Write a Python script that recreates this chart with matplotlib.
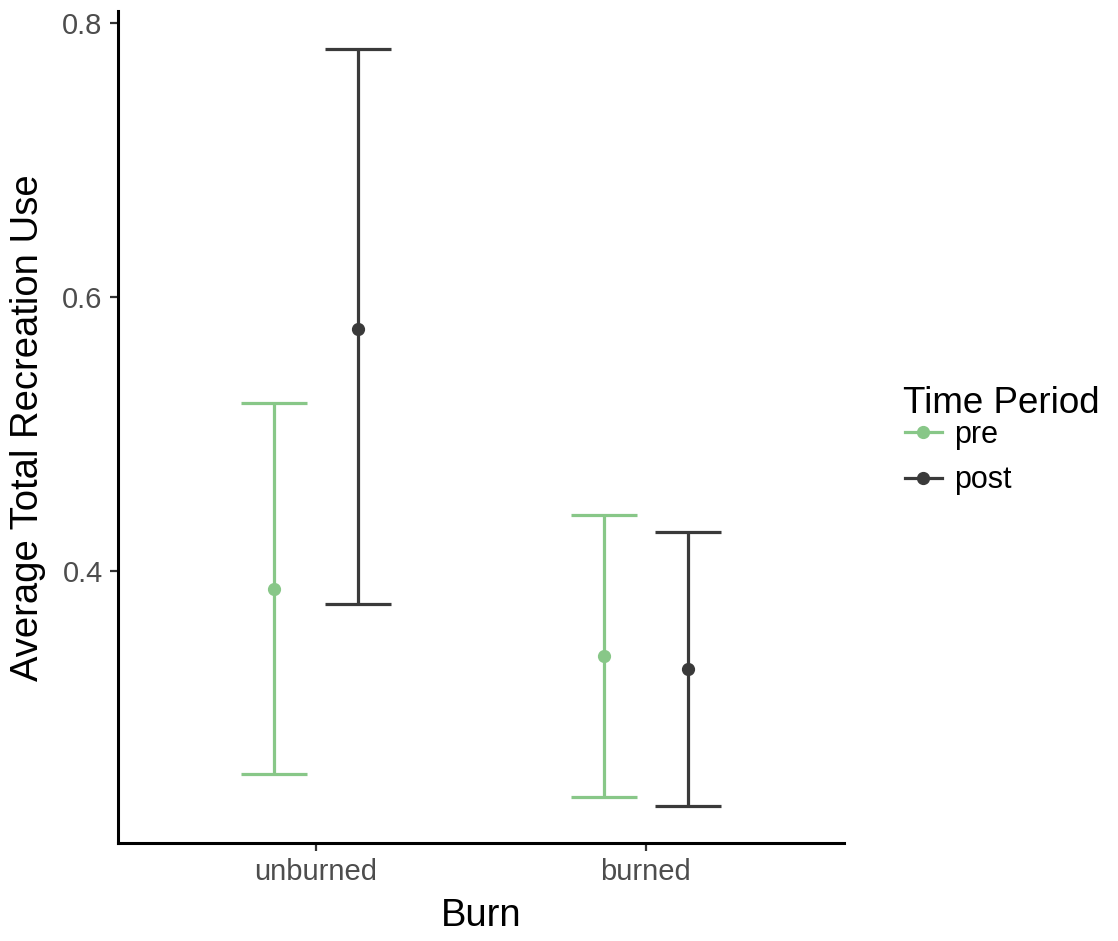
import numpy as np
import matplotlib
matplotlib.use('Agg')
from matplotlib import pyplot as plt
from matplotlib.lines import Line2D

plt.rcParams['font.family'] = ['Liberation Sans', 'DejaVu Sans']

# data
burn = ['unburned', 'burned']
periods = ['pre', 'post']
means = {'pre': [0.387, 0.338], 'post': [0.577, 0.3285]}
lower = {'pre': [0.252, 0.235], 'post': [0.376, 0.229]}
upper = {'pre': [0.523, 0.441], 'post': [0.781, 0.4285]}

colors = {'pre': '#88c788', 'post': '#3a3a3a'}


def main():
    fig = plt.figure(figsize=(11.18, 9.41), dpi=100)
    ax = fig.add_axes([0.1055, 0.104, 0.649, 0.884])

    x = np.arange(1, len(burn) + 1)
    dodge = {'pre': -0.127, 'post': 0.127}
    cap = 0.1

    for p in periods:
        xs = x + dodge[p]
        ax.vlines(xs, lower[p], upper[p], color=colors[p], lw=2.3)
        ax.hlines(lower[p], xs - cap, xs + cap, color=colors[p], lw=2.3)
        ax.hlines(upper[p], xs - cap, xs + cap, color=colors[p], lw=2.3)
        ax.plot(xs, means[p], 'o', color=colors[p], ms=8.5, zorder=3)

    ax.set_xlim(0.4, 2.6)
    ax.set_ylim(0.2016, 0.8086)
    ax.set_xticks(x)
    ax.set_xticklabels(burn)
    ax.set_yticks([0.4, 0.6, 0.8])
    ax.set_yticklabels(['0.4', '0.6', '0.8'])

    for s in ['top', 'right']:
        ax.spines[s].set_visible(False)
    for s in ['left', 'bottom']:
        ax.spines[s].set_linewidth(2.2)
        ax.spines[s].set_color('black')
    ax.tick_params(axis='both', labelsize=21, labelcolor='#4d4d4d',
                   color='#333333', width=1.6, length=6, pad=5)

    ax.set_xlabel('Burn', fontsize=27.5, labelpad=8)
    ax.set_ylabel('Average Total Recreation Use', fontsize=27.5, labelpad=12)

    # legend: title drawn separately so the spacing matches ggplot
    fig.text(0.8077, 0.5712, 'Time Period', fontsize=26.5, ha='left', va='center')
    handles = [Line2D([0], [0], color=colors[p], lw=2.3, marker='o', ms=8.5)
               for p in periods]
    fig.legend(handles, periods, loc='upper left',
               bbox_to_anchor=(0.8095, 0.5535), frameon=False,
               fontsize=22, borderpad=0, borderaxespad=0,
               handlelength=1.2, handletextpad=0.4, labelspacing=0.5)

    fig.savefig('out.png', dpi=100)


if __name__ == '__main__':
    main()
